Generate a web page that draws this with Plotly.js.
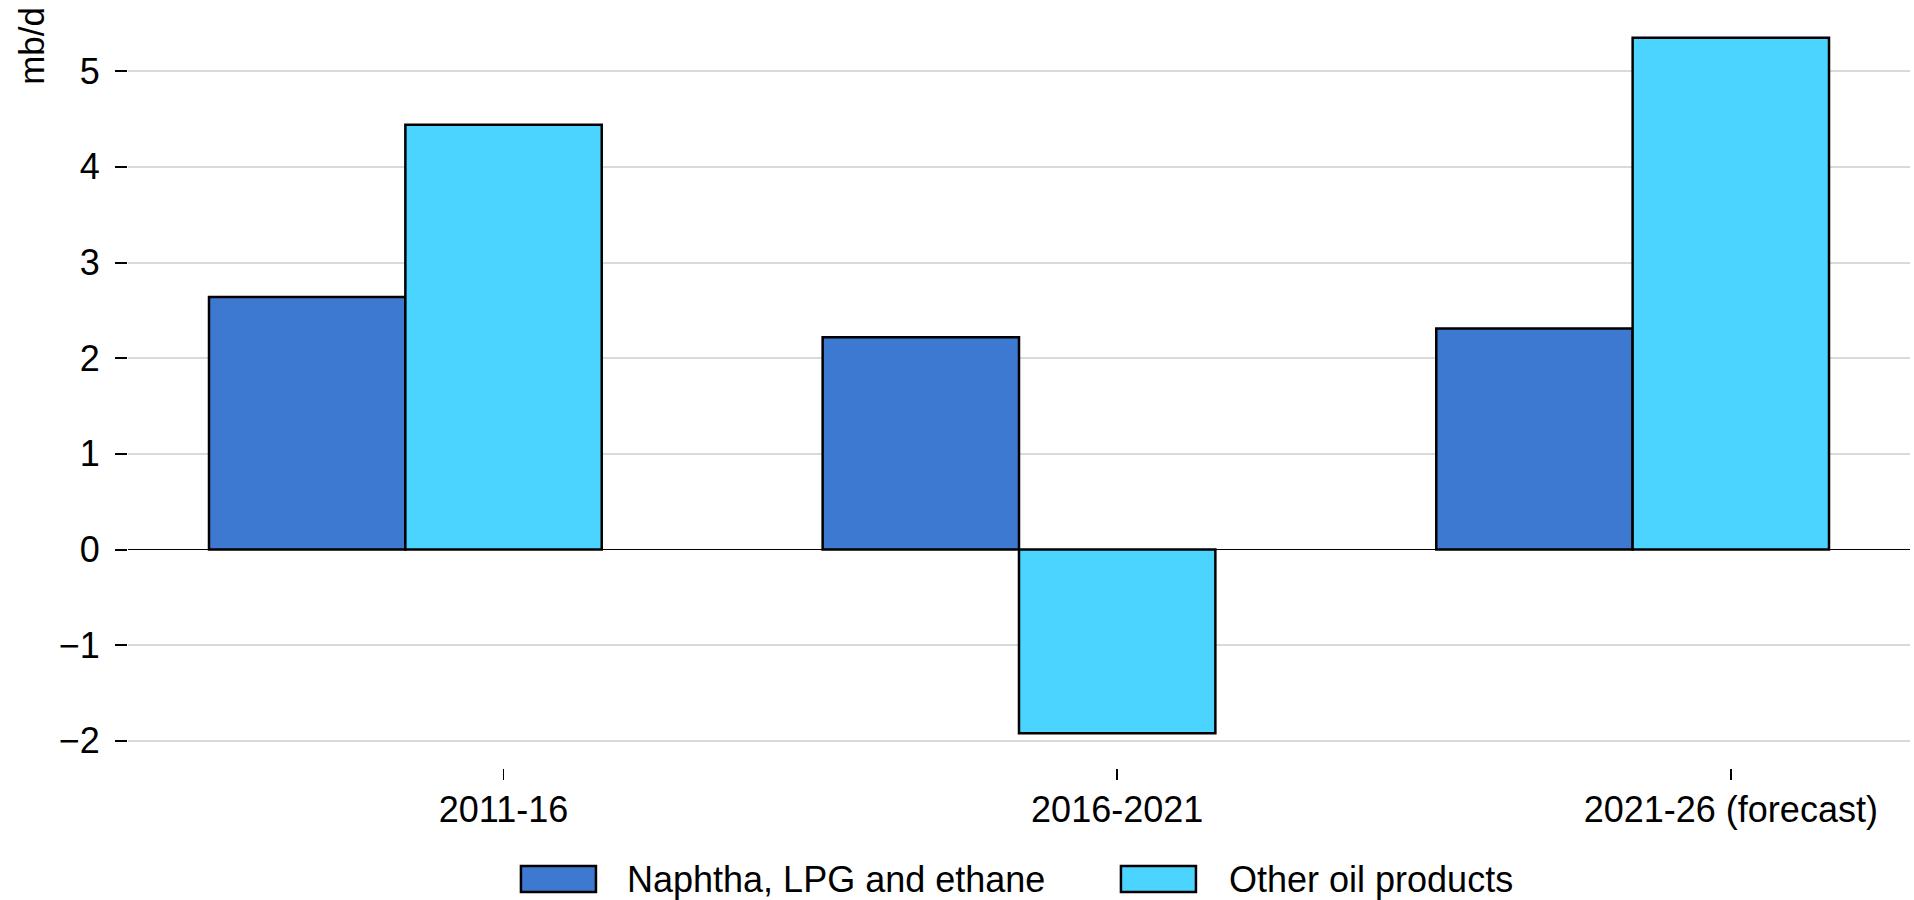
<!DOCTYPE html>
<html>
<head>
<meta charset="utf-8">
<script src="https://cdn.plot.ly/plotly-3.0.1.min.js"></script>
<style>
  html, body { margin: 0; padding: 0; background: #ffffff; }
  #chart { width: 1914px; height: 900px; }
</style>
</head>
<body>
<div id="chart"></div>
<script>
// ---- data ----
const categories = ['2011-16', '2016-2021', '2021-26 (forecast)'];
const seriesNames = ['Naphtha, LPG and ethane', 'Other oil products'];
const naphtha = [2.64, 2.22, 2.31];
const otherProducts = [4.44, -1.92, 5.35];
const yTicks = [-2, -1, 0, 1, 2, 3, 4, 5];

// ---- styles ----
const colors = ['#3E79D1', '#4AD4FF'];
const FONT = 'Liberation Sans, Arial, Helvetica, sans-serif';
const FS = 36;
const barW = 0.32;
const xIdx = categories.map((c, i) => i);

const traces = [
  {
    type: 'bar', name: seriesNames[0], x: xIdx, y: naphtha,
    width: barW, offset: -1.5 * barW,
    marker: { color: colors[0], line: { color: '#000000', width: 2.5 } },
    showlegend: false
  },
  {
    type: 'bar', name: seriesNames[1], x: xIdx, y: otherProducts,
    width: barW, offset: -0.5 * barW,
    marker: { color: colors[1], line: { color: '#000000', width: 2.5 } },
    showlegend: false
  }
];

// custom legend (wide boxes like the reference)
const legendBoxes = [[0.2205, 0.2626], [0.5572, 0.5993]];
const legendTextX = [0.2789, 0.6167];
const shapes = legendBoxes.map((b, i) => ({
  type: 'rect', xref: 'paper', yref: 'paper',
  x0: b[0], x1: b[1], y0: -0.1621, y1: -0.1281,
  fillcolor: colors[i], line: { color: '#000000', width: 2.5 }
}));
const annotations = seriesNames.map((n, i) => ({
  xref: 'paper', yref: 'paper', x: legendTextX[i], y: -0.1451,
  xanchor: 'left', yanchor: 'middle', showarrow: false,
  text: n, font: { family: FONT, size: FS, color: '#000000' }
}));
annotations.push({
  xref: 'paper', yref: 'paper', x: -0.0539, y: 0.944,
  xanchor: 'center', yanchor: 'middle', showarrow: false, textangle: -90,
  text: 'mb/d', font: { family: FONT, size: 35, color: '#000000' }
});

const layout = {
  width: 1914, height: 900,
  margin: { l: 128, r: 4, t: 3, b: 132 },
  paper_bgcolor: '#ffffff', plot_bgcolor: '#ffffff',
  barmode: 'overlay',
  font: { family: FONT, size: FS, color: '#000000' },
  xaxis: {
    type: 'linear', range: [-0.612, 2.292],
    tickvals: xIdx, ticktext: categories,
    showgrid: false, zeroline: false, showline: false,
    ticks: 'outside', ticklen: 11, tickwidth: 1.5, tickcolor: '#000000',
    ticklabelstandoff: -1,
    tickfont: { family: FONT, size: FS, color: '#000000' }
  },
  yaxis: {
    range: [-2.284, 5.713],
    tickvals: yTicks,
    showgrid: true, gridcolor: '#d9d9d9', gridwidth: 2,
    zeroline: true, zerolinecolor: '#000000', zerolinewidth: 1.5,
    showline: false,
    ticks: 'outside', ticklen: 12, tickwidth: 2, tickcolor: '#000000',
    ticklabelstandoff: 8,
    tickfont: { family: FONT, size: FS, color: '#000000' }
  },
  shapes: shapes,
  annotations: annotations
};

Plotly.newPlot('chart', traces, layout, { displayModeBar: false, staticPlot: true });
</script>
</body>
</html>
